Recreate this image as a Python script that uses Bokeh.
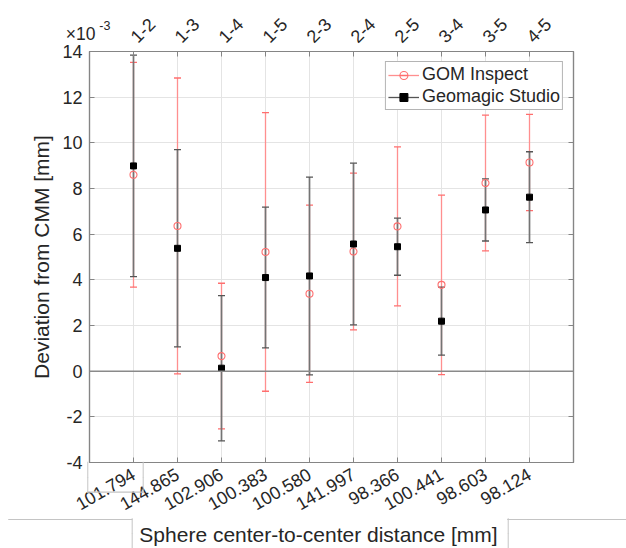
import math
from bokeh.plotting import figure
from bokeh.models import (ColumnDataSource, FixedTicker, LinearAxis, Range1d, Label,
                          Span, Legend, LegendItem)
from bokeh.embed import file_html
from bokeh.resources import INLINE

# ---------------- data (deviation in units of 1e-3 mm) ----------------
pairs = ["1-2", "1-3", "1-4", "1-5", "2-3", "2-4", "2-5", "3-4", "3-5", "4-5"]
distances = ["101.794", "144.865", "102.906", "100.383", "100.580",
             "141.997", "98.366", "100.441", "98.603", "98.124"]
gom_mean = [8.60, 6.36, 0.66, 5.22, 3.39, 5.24, 6.34, 3.78, 8.24, 9.14]
gom_err = [4.92, 6.48, 3.19, 6.10, 3.88, 3.43, 3.48, 3.93, 2.97, 2.11]
geo_mean = [8.99, 5.38, 0.13, 4.10, 4.17, 5.57, 5.45, 2.19, 7.06, 7.62]
geo_err = [4.85, 4.32, 3.18, 3.08, 4.33, 3.54, 1.25, 1.49, 1.36, 1.99]
y_ticks = [-4, -2, 0, 2, 4, 6, 8, 10, 12, 14]

FONT = "Liberation Sans"
TXT = "#262626"
AX = "#858585"
RED = "#ff6e6e"
RED_BAR = "#ff8f8f"
BLK_BAR = "#747474"
BOXC = "#c4c4c4"

xs = list(range(1, len(pairs) + 1))
src = ColumnDataSource(dict(
    x=xs,
    gm=gom_mean,
    gl=[m - e for m, e in zip(gom_mean, gom_err)],
    gu=[m + e for m, e in zip(gom_mean, gom_err)],
    km=geo_mean,
    kl=[m - e for m, e in zip(geo_mean, geo_err)],
    ku=[m + e for m, e in zip(geo_mean, geo_err)],
))

p = figure(width=626, height=548, output_backend="svg", toolbar_location=None,
           x_range=Range1d(0, len(pairs) + 1), y_range=Range1d(y_ticks[0], y_ticks[-1]),
           min_border_left=89, min_border_right=53, min_border_top=51, min_border_bottom=86,
           background_fill_color="white", border_fill_color="white")
p.outline_line_color = AX
p.outline_line_width = 1.2

# grids
p.xgrid.ticker = FixedTicker(ticks=xs)
p.ygrid.ticker = FixedTicker(ticks=y_ticks)
for g in (p.xgrid, p.ygrid):
    g.grid_line_color = "#e4e4e4"
    g.grid_line_width = 1

def style_axis(ax):
    ax.axis_line_color = AX
    ax.axis_line_width = 1.2
    ax.major_tick_line_color = AX
    ax.major_tick_in = 5
    ax.major_tick_out = 0
    ax.minor_tick_line_color = None
    ax.major_label_text_font = FONT
    ax.major_label_text_font_size = "18px"
    ax.major_label_text_color = TXT

# bottom axis: distances
xb = p.xaxis[0]
style_axis(xb)
xb.ticker = FixedTicker(ticks=xs)
xb.major_label_overrides = {i: d for i, d in zip(xs, distances)}
xb.major_label_orientation = math.pi / 6
xb.major_label_standoff = 10

# left axis
yl = p.yaxis[0]
style_axis(yl)
yl.ticker = FixedTicker(ticks=y_ticks)
yl.major_label_overrides = {v: str(v) for v in y_ticks}
yl.major_label_standoff = 7
yl.axis_label = "Deviation from CMM [mm]"
yl.axis_label_text_font = FONT
yl.axis_label_text_font_size = "21px"
yl.axis_label_text_font_style = "normal"
yl.axis_label_text_color = TXT
yl.axis_label_standoff = 6

# top axis: sphere pairs
xt = LinearAxis(ticker=FixedTicker(ticks=xs),
                major_label_overrides={i: s for i, s in zip(xs, pairs)})
style_axis(xt)
xt.major_label_orientation = math.pi / 4
xt.major_label_standoff = 12
p.add_layout(xt, "above")

# right axis: ticks only
yr = LinearAxis(ticker=FixedTicker(ticks=y_ticks),
                major_label_overrides={v: "" for v in y_ticks})
style_axis(yr)
yr.major_label_standoff = 0
p.add_layout(yr, "right")

# zero line
p.add_layout(Span(location=0, dimension="width", line_color="#8a8a8a", line_width=1.5))

# error bars
p.segment(x0="x", y0="gl", x1="x", y1="gu", source=src, line_color=RED_BAR, line_width=1.3)
p.scatter(x="x", y="gl", source=src, marker="dash", size=7, line_color=RED, line_width=1.3)
p.scatter(x="x", y="gu", source=src, marker="dash", size=7, line_color=RED, line_width=1.3)
p.segment(x0="x", y0="kl", x1="x", y1="ku", source=src, line_color=BLK_BAR, line_width=1.7)
p.scatter(x="x", y="kl", source=src, marker="dash", size=7, line_color="#555555", line_width=1.3)
p.scatter(x="x", y="ku", source=src, marker="dash", size=7, line_color="#555555", line_width=1.3)
p.scatter(x="x", y="gm", source=src, marker="circle", size=7, fill_color=None,
          line_color=RED, line_width=1.1)
p.scatter(x="x", y="km", source=src, marker="square", size=6, fill_color="black",
          line_color="black")

# legend (dummy renderers, not visible in the frame)
nan = float("nan")
lg1 = p.line(x=[nan, nan], y=[nan, nan], line_color=RED_BAR, line_width=1.3)
lg2 = p.scatter(x=[nan], y=[nan], marker="dash", angle=math.pi / 2, size=14,
                line_color=RED, line_width=1.3)
lg3 = p.scatter(x=[nan], y=[nan], marker="circle", size=7, fill_color=None,
                line_color=RED, line_width=1.1)
lk1 = p.line(x=[nan, nan], y=[nan, nan], line_color="#555555", line_width=1.3)
lk2 = p.scatter(x=[nan], y=[nan], marker="dash", angle=math.pi / 2, size=14,
                line_color="#777777", line_width=1.3)
lk3 = p.scatter(x=[nan], y=[nan], marker="square", size=6, fill_color="black",
                line_color="black")
legend = Legend(items=[LegendItem(label="GOM Inspect", renderers=[lg1, lg2, lg3]),
                       LegendItem(label="Geomagic Studio", renderers=[lk1, lk2, lk3])],
                location="top_right", margin=10, padding=2, spacing=1,
                glyph_width=31, glyph_height=20, label_height=20, label_standoff=3,
                label_text_font=FONT, label_text_font_size="18px", label_text_color=TXT,
                border_line_color="#6a6a6a", border_line_width=1,
                background_fill_color="white", background_fill_alpha=1)
p.add_layout(legend)

# exponent label (side-panel labels are not clipped to the frame)
p.add_layout(Label(x=0.136, y=14.745, text="\u00d710", text_align="right",
                   text_baseline="alphabetic",
                   text_font=FONT, text_font_size="17.5px", text_color=TXT), "right")
p.add_layout(Label(x=0.477, y=15.14, text="-3", text_align="right",
                   text_baseline="alphabetic",
                   text_font=FONT, text_font_size="12.5px", text_color=TXT), "right")

# x axis label
p.add_layout(Label(x=5.205, y=-7.153, text="Sphere center-to-center distance [mm]",
                   text_align="center", text_baseline="middle",
                   text_font=FONT, text_font_size="21px", text_color=TXT), "below")

# thin gray frame lines seen around the label area of the source image
# (Label padding is given as (horizontal, vertical))
def hline(xc, yc, half_w):
    p.add_layout(Label(x=xc, y=yc, text=" ", text_font_size="1px", text_color=BOXC,
                       text_align="center", text_baseline="middle", padding=(half_w, 0),
                       background_fill_color=BOXC, border_line_color=None), "above")

def vline(xc, yc, half_h):
    p.add_layout(Label(x=xc, y=yc, text="M", text_font_size="1.2px", text_color=BOXC,
                       text_align="center", text_baseline="middle", padding=(0, half_h),
                       background_fill_color=BOXC, border_line_color=None), "left")

hline(0.591, -5.30, 28)     # bottom edge of box around first tick label
vline(-0.039, -4.657, 15)   # left edge of that box
vline(1.220, -4.657, 15)    # right edge of that box
hline(-0.435, -6.496, 62)   # line left of the axis title
hline(10.86, -6.496, 60)    # line right of the axis title
vline(0.970, -7.131, 15)
vline(9.516, -7.131, 15)

open("out.html", "w").write(file_html(p, INLINE))
